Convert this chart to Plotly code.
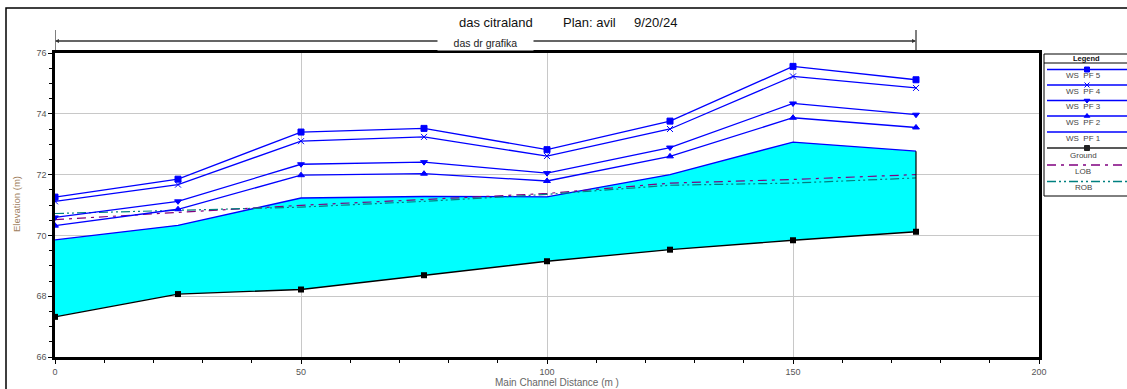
import plotly.graph_objects as go

# Profile stations (main channel distance, m)
stations = [0, 25, 50, 75, 100, 125, 150, 175]

# Elevations (m)
ground = [67.32, 68.07, 68.22, 68.69, 69.15, 69.53, 69.84, 70.12]
ws_pf1 = [69.85, 70.33, 71.23, 71.28, 71.27, 72.00, 73.07, 72.77]
ws_pf2 = [70.32, 70.86, 71.98, 72.03, 71.79, 72.60, 73.87, 73.55]
ws_pf3 = [70.59, 71.12, 72.34, 72.41, 72.05, 72.89, 74.34, 73.97]
ws_pf4 = [71.12, 71.67, 73.10, 73.24, 72.61, 73.50, 75.23, 74.85]
ws_pf5 = [71.26, 71.85, 73.40, 73.52, 72.82, 73.76, 75.56, 75.12]
lob = [70.52, 70.75, 70.99, 71.18, 71.38, 71.72, 71.84, 72.00]
rob = [70.72, 70.83, 70.93, 71.12, 71.35, 71.65, 71.72, 71.89]

x_ticks = [0, 50, 100, 150, 200]
y_ticks = [66, 68, 70, 72, 74, 76]

title_parts = ["das citraland", "Plan: avil", "9/20/24"]
reach_label = "das dr grafika"
x_title = "Main Channel Distance (m )"
y_title = "Elevation (m)"

W, H = 1127, 389
FONT = "Liberation Sans, Arial, sans-serif"
BLUE = "#0000ff"


def px(x):
    return x / W


def py(y):
    return 1 - y / H


def text_at(x, y, text, size, color, xref="paper", **kw):
    return dict(x=x, y=y, xref=xref, yref="paper", text=text, showarrow=False,
                xanchor="center", yanchor="middle",
                font=dict(family=FONT, size=size, color=color), **kw)


fig = go.Figure()

# Channel bed with the PF 1 water body filled above it
fig.add_trace(go.Scatter(x=stations, y=ground, mode="lines+markers", name="Ground",
                         line=dict(color="black", width=1.3),
                         marker=dict(symbol="square", size=6, color="black")))
fig.add_trace(go.Scatter(x=stations, y=ws_pf1, mode="lines", name="WS PF 1",
                         fill="tonexty", fillcolor="#00ffff",
                         line=dict(color=BLUE, width=1.3)))

# Bank stations
fig.add_trace(go.Scatter(x=stations, y=lob, mode="lines", name="LOB",
                         line=dict(color="#800080", width=1.2, dash="9px,5px,3px,5px")))
fig.add_trace(go.Scatter(x=stations, y=rob, mode="lines", name="ROB",
                         line=dict(color="#008080", width=1.2,
                                   dash="9px,3px,2px,3px,2px,3px")))

# Water surface profiles
ws_series = [
    ("WS PF 2", ws_pf2, "triangle-up", 6),
    ("WS PF 3", ws_pf3, "triangle-down", 6),
    ("WS PF 4", ws_pf4, "x-thin-open", 6),
    ("WS PF 5", ws_pf5, "square", 6),
]
for name, vals, sym, size in ws_series:
    fig.add_trace(go.Scatter(x=stations, y=vals, mode="lines+markers", name=name,
                             line=dict(color=BLUE, width=1.3),
                             marker=dict(symbol=sym, size=size, color=BLUE,
                                         line=dict(color=BLUE, width=1))))

shapes = []
# right edge of the water body
shapes.append(dict(type="line", xref="x", yref="y", x0=stations[-1], x1=stations[-1],
                   y0=ground[-1], y1=ws_pf1[-1], line=dict(color="black", width=1.2)))

# reach extent marker above the plot
ext_y = py(41)
for xs in (stations[0], stations[-1]):
    shapes.append(dict(type="line", xref="x", yref="paper", x0=xs, x1=xs,
                       y0=py(30), y1=py(53), line=dict(color="black", width=1)))

# outer frame
shapes.append(dict(type="rect", xref="paper", yref="paper", x0=px(6), x1=1.05,
                   y0=-0.05, y1=py(8), line=dict(color="black", width=1.5)))

annotations = []
# double-headed extent arrow
mid = (stations[0] + stations[-1]) / 2
for a, b in ((stations[0], stations[-1]), (stations[-1], stations[0])):
    annotations.append(dict(x=b, y=ext_y, xref="x", yref="paper", ax=a, ay=0,
                            axref="x", ayref="pixel", showarrow=True, arrowhead=2,
                            arrowsize=0.8, arrowwidth=1, arrowcolor="#333", text=""))
annotations.append(text_at(mid, py(43), "\u00a0" * 5 + reach_label + "\u00a0" * 5,
                           10.5, "#222", xref="x", bgcolor="white"))

# title
for t, xc in zip(title_parts, (496, 589, 655)):
    annotations.append(text_at(px(xc), py(22), t, 13, "#111"))

# axis titles
annotations.append(text_at(px(557), py(382), x_title, 10, "#666"))
annotations.append(text_at(px(16), py(204), y_title, 9.5, "#a08060", textangle=-90))

# custom legend box
LX0, LX1 = 1044, 1140
shapes.append(dict(type="rect", xref="paper", yref="paper", x0=px(LX0), x1=px(LX1),
                   y0=py(196), y1=py(54), line=dict(color="black", width=1)))
shapes.append(dict(type="line", xref="paper", yref="paper", x0=px(LX0), x1=px(LX1),
                   y0=py(63), y1=py(63), line=dict(color="black", width=1)))
annotations.append(text_at(px(1086), py(58.5), "<b>Legend</b>", 7.5, "#111"))

legend_rows = [
    ("WS  PF 5", BLUE, "solid", "square", 69.5, 76),
    ("WS  PF 4", BLUE, "solid", "x-thin-open", 85, 91.5),
    ("WS  PF 3", BLUE, "solid", "triangle-down", 100.5, 107),
    ("WS  PF 2", BLUE, "solid", "triangle-up", 116, 122.5),
    ("WS  PF 1", BLUE, "solid", None, 132, 138.5),
    ("Ground", "#222", "solid", "square", 148, 155),
    ("LOB", "#800080", "9px,5px,3px,5px", None, 165, 171),
    ("ROB", "#008080", "9px,3px,2px,3px,2px,3px", None, 181.5, 187.5),
]
mk_x, mk_y, mk_sym, mk_col = [], [], [], []
for label, col, dash, sym, ly, ty in legend_rows:
    shapes.append(dict(type="line", xref="paper", yref="paper", x0=px(1047), x1=px(1130),
                       y0=py(ly), y1=py(ly), line=dict(color=col, width=1.3, dash=dash)))
    annotations.append(text_at(px(1083), py(ty), label, 8, "#444"))
    if sym:
        mk_x.append(1087)
        mk_y.append(ly)
        mk_sym.append(sym)
        mk_col.append(col)

fig.add_trace(go.Scatter(x=mk_x, y=mk_y, xaxis="x2", yaxis="y2", mode="markers",
                         marker=dict(symbol=mk_sym, size=5, color=mk_col,
                                     line=dict(color=mk_col, width=1)),
                         hoverinfo="skip", showlegend=False, cliponaxis=False))

axis_font = dict(family=FONT, size=9, color="#555")
fig.update_layout(
    width=W, height=H,
    margin=dict(l=0, r=0, t=0, b=0),
    paper_bgcolor="white", plot_bgcolor="rgba(0,0,0,0)",
    showlegend=False,
    shapes=shapes, annotations=annotations,
    xaxis=dict(domain=[px(55), px(1039)], range=[0, 200], tickvals=x_ticks,
               ticks="outside", ticklen=4, tickcolor="black", tickfont=axis_font,
               showgrid=True, gridcolor="#c8c8c8", gridwidth=1, zeroline=False,
               showline=True, linecolor="black", linewidth=2.5, mirror=True,
               minor=dict(dtick=10, ticks="outside", ticklen=3, tickcolor="black",
                          showgrid=False),
               automargin=False),
    yaxis=dict(domain=[py(357), py(53)], range=[66, 76], tickvals=y_ticks,
               ticks="outside", ticklen=4, tickcolor="black", tickfont=axis_font,
               showgrid=True, gridcolor="#c8c8c8", gridwidth=1, zeroline=False,
               showline=True, linecolor="black", linewidth=2.5, mirror=True,
               minor=dict(dtick=0.5, ticks="outside", ticklen=3, tickcolor="black",
                          showgrid=False),
               automargin=False),
    xaxis2=dict(domain=[0, 1], range=[0, W], visible=False, fixedrange=True,
                anchor="y2"),
    yaxis2=dict(domain=[0, 1], range=[H, 0], visible=False, fixedrange=True,
                anchor="x2"),
)

fig.write_html("out.html")
